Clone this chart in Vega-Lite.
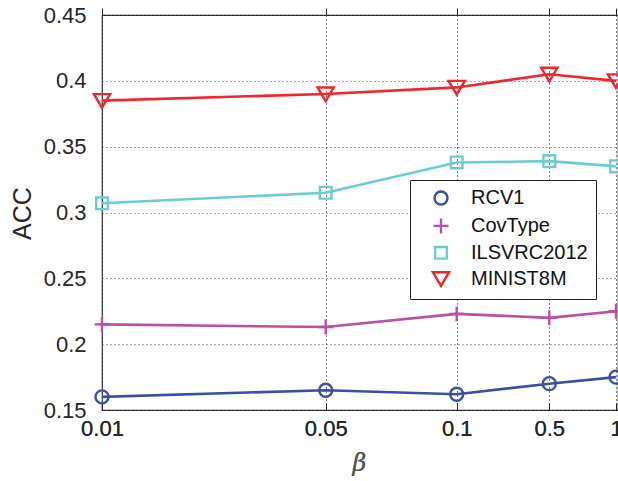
{
  "$schema": "https://vega.github.io/schema/vega-lite/v6.json",
  "width": 516,
  "height": 395,
  "autosize": {"type": "none"},
  "padding": {"left": 102, "top": 15, "right": 0, "bottom": 71},
  "background": "white",
  "config": {
    "view": {"stroke": "#222222", "strokeWidth": 1.2},
    "font": "Liberation Sans"
  },
  "data": {
    "values": [
      {"beta": 0.01, "acc": 0.160, "dataset": "RCV1"},
      {"beta": 0.05, "acc": 0.165, "dataset": "RCV1"},
      {"beta": 0.1, "acc": 0.162, "dataset": "RCV1"},
      {"beta": 0.5, "acc": 0.170, "dataset": "RCV1"},
      {"beta": 1, "acc": 0.175, "dataset": "RCV1"},
      {"beta": 0.01, "acc": 0.215, "dataset": "CovType"},
      {"beta": 0.05, "acc": 0.213, "dataset": "CovType"},
      {"beta": 0.1, "acc": 0.223, "dataset": "CovType"},
      {"beta": 0.5, "acc": 0.220, "dataset": "CovType"},
      {"beta": 1, "acc": 0.225, "dataset": "CovType"},
      {"beta": 0.01, "acc": 0.307, "dataset": "ILSVRC2012"},
      {"beta": 0.05, "acc": 0.315, "dataset": "ILSVRC2012"},
      {"beta": 0.1, "acc": 0.338, "dataset": "ILSVRC2012"},
      {"beta": 0.5, "acc": 0.339, "dataset": "ILSVRC2012"},
      {"beta": 1, "acc": 0.335, "dataset": "ILSVRC2012"},
      {"beta": 0.01, "acc": 0.385, "dataset": "MINIST8M"},
      {"beta": 0.05, "acc": 0.390, "dataset": "MINIST8M"},
      {"beta": 0.1, "acc": 0.395, "dataset": "MINIST8M"},
      {"beta": 0.5, "acc": 0.405, "dataset": "MINIST8M"},
      {"beta": 1, "acc": 0.400, "dataset": "MINIST8M"}
    ]
  },
  "encoding": {
    "x": {
      "field": "beta", "type": "quantitative",
      "scale": {"type": "linear", "zero": false, "nice": false, "domain": [0.01, 0.05, 0.1, 0.5, 1], "range": [0, 223.7, 354.7, 447.3, 514]},
      "axis": {
        "orient": "bottom",
        "values": [0.01, 0.05, 0.1, 0.5, 1],
        "format": "~g",
        "labelFontSize": 22,
        "labelColor": "#262626",
        "labelFlush": false,
        "labelPadding": 15,
        "ticks": true,
        "tickSize": -7,
        "tickColor": "#222222",
        "tickWidth": 1,
        "domain": false,
        "grid": true,
        "gridDash": [1, 3],
        "gridColor": "#555555",
        "gridWidth": 1,
        "title": "β",
        "titleFont": "DejaVu Serif",
        "titleFontStyle": "italic",
        "titleFontWeight": "normal",
        "titleFontSize": 24,
        "titleColor": "#555555",
        "titleY": 53,
        "titleBaseline": "middle"
      }
    },
    "y": {
      "field": "acc", "type": "quantitative",
      "scale": {"domain": [0.15, 0.45], "nice": false, "zero": false},
      "axis": {
        "values": [0.15, 0.2, 0.25, 0.3, 0.35, 0.4, 0.45],
        "format": "~g",
        "labelFontSize": 22,
        "labelColor": "#262626",
        "labelPadding": 16,
        "labelFlush": false,
        "ticks": false,
        "domain": false,
        "grid": true,
        "gridDash": [1, 3],
        "gridColor": "#555555",
        "gridWidth": 1,
        "title": "ACC",
        "titleFontSize": 25,
        "titleFontWeight": "normal",
        "titleColor": "#262626",
        "titleX": -80,
        "titleY": 198,
        "titleBaseline": "middle"
      }
    },
    "color": {
      "field": "dataset", "type": "nominal",
      "scale": {"domain": ["RCV1", "CovType", "ILSVRC2012", "MINIST8M"], "range": ["#3a50a2", "#b850a4", "#6dcbd6", "#f0262b"]},
      "legend": {
        "orient": "none",
        "legendX": 308,
        "legendY": 165,
        "title": null,
        "fillColor": "white",
        "strokeColor": "#222222",
        "padding": 8,
        "labelFontSize": 20,
        "labelFont": "Liberation Sans",
        "labelColor": "#111111",
        "labelOffset": 20,
        "symbolOffset": 13,
        "symbolSize": 169,
        "symbolStrokeWidth": 2.4,
        "symbolFillColor": "transparent",
        "rowPadding": 2.9
      }
    }
  },
  "layer": [
    {
      "mark": {"type": "line", "strokeWidth": 2.6}
    },
    {
      "mark": {"type": "point", "filled": false, "size": 169, "strokeWidth": 2.4, "opacity": 1},
      "encoding": {
        "shape": {
          "field": "dataset", "type": "nominal",
          "scale": {
            "domain": ["RCV1", "CovType", "ILSVRC2012", "MINIST8M"],
            "range": ["circle", "M-1.15,0L1.15,0M0,-1.15L0,1.15", "M-0.9,-0.9L0.9,-0.9L0.9,0.9L-0.9,0.9Z", "M-1.25,-1L1.25,-1L0,1.1Z"]
          },
          "legend": null
        }
      }
    },
    {
      "mark": {"type": "point", "opacity": 0, "size": 1},
      "encoding": {
        "x": {
          "field": "beta", "type": "quantitative",
          "axis": {
            "orient": "top",
            "values": [0.01, 0.05, 0.1, 0.5, 1],
            "labels": false,
            "ticks": true,
            "tickSize": 7,
            "tickColor": "#222222",
            "domain": false,
            "grid": false,
            "title": null
          }
        },
        "color": {"value": "transparent"}
      }
    }
  ],
  "resolve": {"axis": {"x": "independent"}}
}
